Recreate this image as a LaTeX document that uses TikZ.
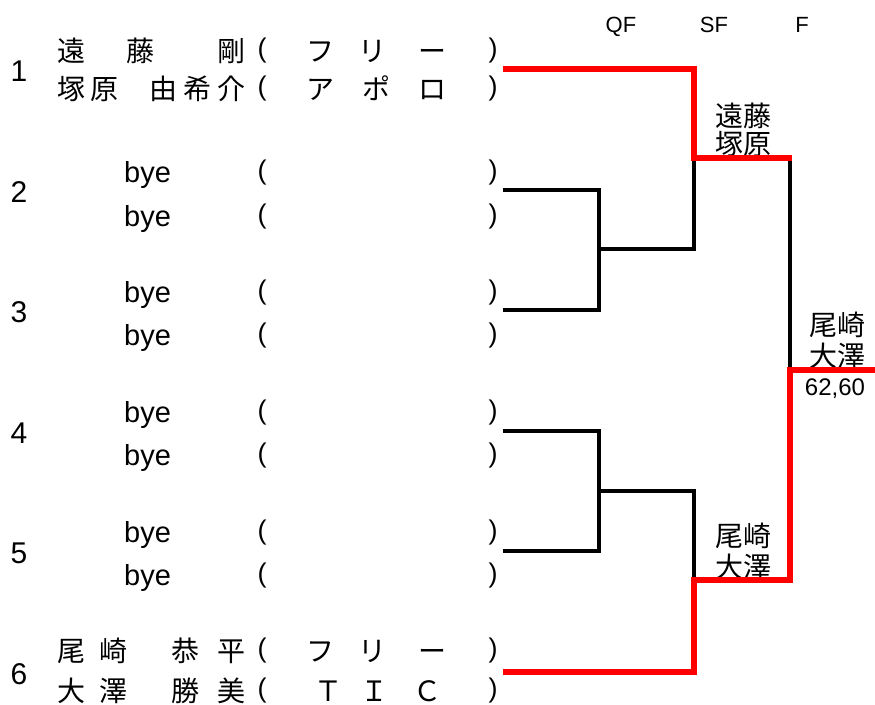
\documentclass[tikz,border=0pt]{standalone}
\usepackage{fontspec}
\setmainfont{Liberation Sans}
\newfontfamily\jpfont{Noto Sans CJK JP}

\begin{document}
\begin{tikzpicture}[x=1pt,y=-1pt,
  seed/.style={anchor=base,inner sep=0pt,font=\fontsize{30pt}{30pt}\selectfont},
  player/.style={anchor=base west,inner sep=0pt,font=\jpfont\fontsize{28pt}{28pt}\selectfont},
  byename/.style={anchor=base west,inner sep=0pt,font=\fontsize{29pt}{29pt}\selectfont},
  paren/.style={anchor=base,inner sep=0pt,font=\fontsize{27pt}{27pt}\selectfont},
  roundname/.style={anchor=base,inner sep=0pt,font=\fontsize{22pt}{22pt}\selectfont},
  winner/.style={anchor=base,inner sep=0pt,font=\jpfont\fontsize{28pt}{28pt}\selectfont},
  score/.style={anchor=base,inner sep=0pt,font=\fontsize{24pt}{24pt}\selectfont},
  loser/.style={black,line width=3.5pt},
  win/.style={red,line width=6.5pt}]
\useasboundingbox (0,0) rectangle (875,704);

\coordinate (e1) at (503,69);
\coordinate (e2) at (503,190);
\coordinate (e3) at (503,310);
\coordinate (e4) at (503,431);
\coordinate (e5) at (503,551);
\coordinate (e6) at (503,672);
\coordinate (q1) at (599,249);
\coordinate (q2) at (599,491);
\coordinate (s1) at (694,158);
\coordinate (s2) at (694,580);
\coordinate (f) at (790,370);
\coordinate (champ) at (875,370);

\node[roundname] (qf) at (621,32) {QF};
\node[roundname] (sf) at (714,32) {SF};
\node[roundname] (fn) at (802,32) {F};

\node[seed] (n1) at (19,81) {1};
\node[seed] (n2) at (19,202) {2};
\node[seed] (n3) at (19,322) {3};
\node[seed] (n4) at (19,443) {4};
\node[seed] (n5) at (19,563) {5};
\node[seed] (n6) at (19,684) {6};

\node[player] (p1a) at (57,61) {遠\hspace{41pt}藤\hspace{63pt}剛};
\node[player] (p1b) at (57,99) {塚\hspace{5pt}原\hspace{31pt}由\hspace{6pt}希\hspace{6pt}介};
\node[player] (c1a) at (306,61) {フ\hspace{24pt}リ\hspace{32pt}ー};
\node[player] (c1b) at (306,99) {ア\hspace{28pt}ポ\hspace{28pt}ロ};
\node[paren] (l1a) at (262,57) {(};
\node[paren] (r1a) at (493,57) {)};
\node[paren] (l1b) at (262,95) {(};
\node[paren] (r1b) at (493,95) {)};

\node[byename] (b2a) at (124,182) {bye};
\node[byename] (b2b) at (124,226) {bye};
\node[paren] (l2a) at (262,179) {(};
\node[paren] (r2a) at (493,179) {)};
\node[paren] (l2b) at (262,223) {(};
\node[paren] (r2b) at (493,223) {)};

\node[byename] (b3a) at (124,302) {bye};
\node[byename] (b3b) at (124,345) {bye};
\node[paren] (l3a) at (262,299) {(};
\node[paren] (r3a) at (493,299) {)};
\node[paren] (l3b) at (262,342) {(};
\node[paren] (r3b) at (493,342) {)};

\node[byename] (b4a) at (124,422) {bye};
\node[byename] (b4b) at (124,465) {bye};
\node[paren] (l4a) at (262,419) {(};
\node[paren] (r4a) at (493,419) {)};
\node[paren] (l4b) at (262,462) {(};
\node[paren] (r4b) at (493,462) {)};

\node[byename] (b5a) at (124,542) {bye};
\node[byename] (b5b) at (124,585) {bye};
\node[paren] (l5a) at (262,539) {(};
\node[paren] (r5a) at (493,539) {)};
\node[paren] (l5b) at (262,582) {(};
\node[paren] (r5b) at (493,582) {)};

\node[player] (p6a) at (57,661) {尾\hspace{14pt}崎\hspace{44pt}恭\hspace{18pt}平};
\node[player] (p6b) at (57,701) {大\hspace{14pt}澤\hspace{44pt}勝\hspace{18pt}美};
\node[player] (c6a) at (306,661) {フ\hspace{24pt}リ\hspace{32pt}ー};
\node[player] (c6b) at (314,701) {Ｔ\hspace{18pt}Ｉ\hspace{25pt}Ｃ};
\node[paren] (l6a) at (262,657) {(};
\node[paren] (r6a) at (493,657) {)};
\node[paren] (l6b) at (262,697) {(};
\node[paren] (r6b) at (493,697) {)};

\node[winner] (w1a) at (743,126.6) {遠藤};
\node[winner] (w1b) at (743,154.6) {塚原};
\node[winner] (w2a) at (743,546.6) {尾崎};
\node[winner] (w2b) at (743,577.6) {大澤};
\node[winner] (wfa) at (837,335.6) {尾崎};
\node[winner] (wfb) at (837,366.6) {大澤};
\node[score] (res) at (835,395) {62,60};

\draw[loser] (e2) -| (q1) -- (q1 |- e3) -- (e3);
\draw[loser] (q1) -| (s1);
\draw[loser] (e4) -| (q2) -- (q2 |- e5) -- (e5);
\draw[loser] (q2) -| (s2);
\draw[loser] (f |- s1) -- (f);

\draw[win] (e1) -| (s1) -- ([xshift=2pt]f |- s1);
\draw[win] (champ) -- (f) |- (s2) |- (e6);
\end{tikzpicture}
\end{document}
